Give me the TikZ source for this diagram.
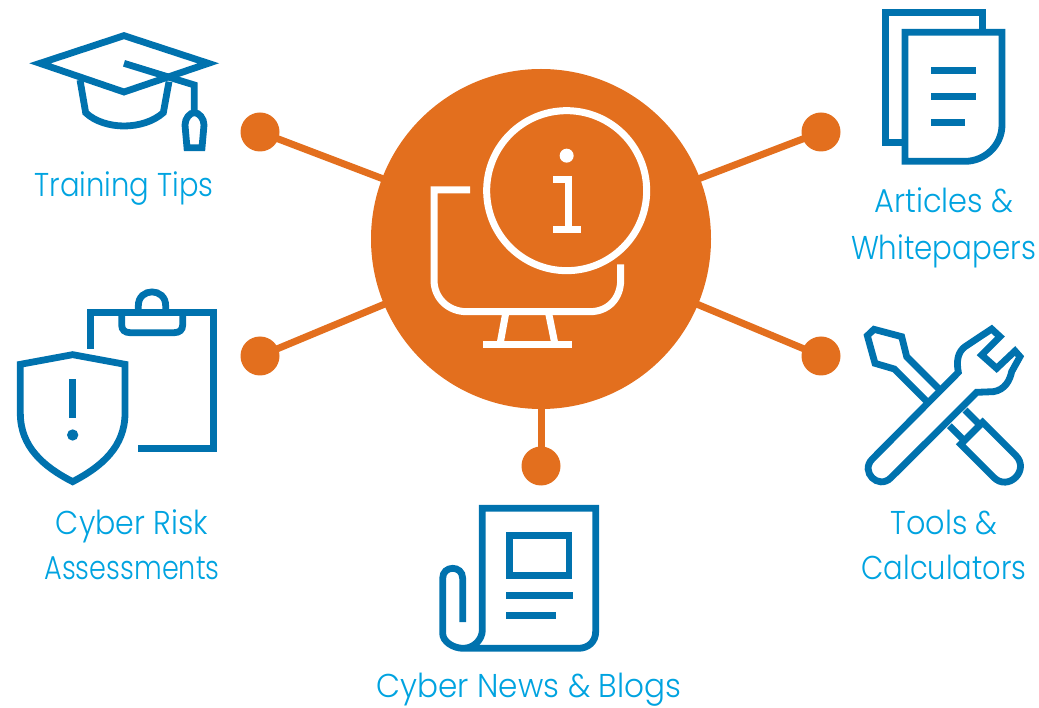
\documentclass[tikz,border=0pt]{standalone}
\usepackage{fontspec}
\usepackage{graphicx}
\setmainfont{Poppins Light}
\definecolor{hubor}{HTML}{E36F1E}
\definecolor{iconb}{HTML}{0072AE}
\definecolor{labelb}{HTML}{00A3E0}
\newcommand{\fitw}[2]{\resizebox*{#1pt}{\totalheight}{#2}}
\tikzset{
  hub/.style={circle,fill=hubor,minimum size=340pt,inner sep=0pt},
  dotn/.style={circle,fill=hubor,minimum size=39pt,inner sep=0pt},
  link/.style={draw=hubor,line width=7pt},
  ic/.style={draw=iconb,line width=6.8pt,miter limit=10,fill=none},
  wh/.style={draw=white,line width=7pt,fill=none},
  lab/.style={text=labelb,font=\fontsize{33}{38}\selectfont,inner sep=0pt,anchor=base},
  zoomed/.style={scale=0.33333}
}
\begin{document}
\begin{tikzpicture}[x=1pt,y=-1pt]
\useasboundingbox (0,0) rectangle (1039,708);
\node[hub] (H) at (541,239) {};
\node[dotn] (d1) at (260,132) {};
\node[dotn] (d2) at (260,356) {};
\node[dotn] (d3) at (821,132) {};
\node[dotn] (d4) at (821,356) {};
\node[dotn] (d5) at (541,466) {};
\foreach \d in {d1,d2,d3,d4,d5} \draw[link] (\d.center) -- (H.center);
% monitor
\begin{scope}[shift={(420,95)},zoomed]
\draw[wh] (440,287) circle (240);
\fill[white] (440,182) circle (21);
\draw[wh] (399,255) -- (444,255) -- (444,403);
\draw[wh] (399,403) -- (483,403);
\draw[wh] (150,285) -- (42,285) -- (42,555) .. controls (42,610) and (85,650) .. (140,650) -- (510,650) .. controls (565,650) and (602,610) .. (602,555) -- (602,508);
\draw[wh] (258,650) -- (240,748);
\draw[wh] (385,650) -- (405,748);
\draw[wh] (189,748) -- (457,748);
\end{scope}
% cap
\begin{scope}[shift={(0,20)},zoomed]
\draw[ic] (120,130) -- (372,47) -- (625,130) -- (372,216) -- cycle;
\draw[ic] (372,130) -- (583,195) -- (583,270);
\draw[ic] (240,180) -- (257,278) .. controls (285,305) and (330,318) .. (372,318) .. controls (415,318) and (460,305) .. (490,278) -- (507,185);
\draw[ic] (561,383) -- (555,315) .. controls (555,295) and (570,278) .. (583,278) .. controls (597,278) and (612,295) .. (612,315) -- (606,383) -- cycle;
\end{scope}
% clipboard and shield
\begin{scope}[shift={(0,280)},zoomed]
\draw[ic] (272,207) -- (272,98) -- (640,98) -- (640,505) -- (413,505);
\draw[ic] (365,98) -- (365,135) .. controls (365,150) and (375,158) .. (390,158) -- (523,158) .. controls (538,158) and (548,150) .. (548,135) -- (548,98);
\draw[ic] (415,98) -- (415,77) .. controls (415,22) and (497,22) .. (497,77) -- (497,98);
\draw[ic] (218,224) -- (375,253) -- (375,400) .. controls (375,500) and (305,560) .. (218,605) .. controls (130,560) and (61,500) .. (61,400) -- (61,253) -- cycle;
\draw[ic] (218,298) -- (218,415);
\fill[iconb] (218,465) circle (17);
\end{scope}
% documents
\begin{scope}[shift={(850,0)},zoomed]
\draw[ic] (165,427) -- (107,427) -- (107,38) -- (398,38) -- (398,97);
\draw[ic] (165,97) -- (456,97) -- (456,375) .. controls (456,435) and (405,484) .. (345,484) -- (165,484) -- cycle;
\draw[ic] (243,212) -- (378,212);
\draw[ic] (243,290) -- (378,290);
\draw[ic] (243,368) -- (345,368);
\end{scope}
% tools
\begin{scope}[shift={(850,315)},zoomed]
\draw[ic] (123,488) -- (380,232) -- (430,230) .. controls (465,225) and (480,195) .. (485,170) -- (510,125) -- (495,108) -- (440,160) -- (395,120) -- (450,65) -- (425,42) -- (345,95) .. controls (325,110) and (318,135) .. (325,172) -- (67,432) .. controls (29,470) and (85,526) .. (123,488) -- cycle;
\draw[ic] (265,220) -- (170,125) -- (155,65) -- (72,43) -- (52,62) -- (75,145) -- (133,162) -- (228,257);
\draw[ic] (345,285) -- (388,328);
\draw[ic] (298,332) -- (342,376);
\draw[ic] (398,322) -- (332,388) -- (431,487) .. controls (475,531) and (541,465) .. (497,421) -- cycle;
\end{scope}
% newspaper
\begin{scope}[shift={(425,495)},zoomed]
\draw[ic] (113,381) -- (113,250) .. controls (113,210) and (53,210) .. (53,250) -- (53,415) .. controls (53,440) and (85,460) .. (115,460) -- (460,460) .. controls (490,460) and (512,440) .. (512,410) -- (512,40) -- (172,40) -- (172,405) .. controls (172,435) and (145,460) .. (115,460);
\draw[ic] (253,121) rectangle (432,241);
\draw[ic] (243,301) -- (443,301);
\draw[ic] (243,361) -- (393,361);
\end{scope}
\node[lab] (t1) at (124,196.5) {\fitw{179}{Training Tips}};
\node[lab] (t2a) at (944,212.8) {\fitw{139}{Articles \&}};
\node[lab] (t2b) at (943.5,260) {\fitw{185}{Whitepapers}};
\node[lab] (t3a) at (132,534.7) {\fitw{152}{Cyber Risk}};
\node[lab] (t3b) at (132,579.7) {\fitw{175}{Assessments}};
\node[lab] (t4a) at (944,534.7) {\fitw{107}{Tools \&}};
\node[lab] (t4b) at (944,579.7) {\fitw{165}{Calculators}};
\node[lab] (t5) at (529,697) {\fitw{305}{Cyber News \& Blogs}};
\end{tikzpicture}
\end{document}
